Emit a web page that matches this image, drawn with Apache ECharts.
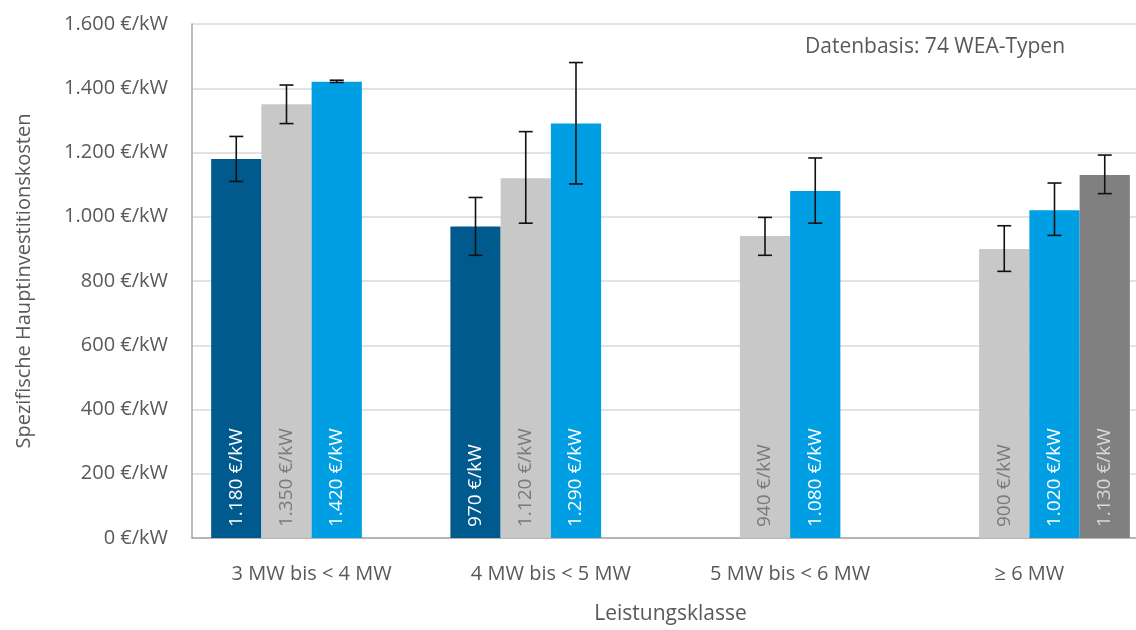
<!DOCTYPE html>
<html>
<head>
<meta charset="utf-8">
<script src="https://cdn.jsdelivr.net/npm/echarts@6/dist/echarts.min.js"></script>
<style>html,body{margin:0;padding:0;background:#fff;overflow:hidden;}#c{width:1149px;height:630px;}</style>
</head>
<body>
<div id="c"></div>
<script>
const categories = ['3 MW bis < 4 MW', '4 MW bis < 5 MW', '5 MW bis < 6 MW', '≥ 6 MW'];
const seriesNames = ['S1', 'S2', 'S3', 'S4'];
const valuesDarkBlue = [1180, 970, null, null];
const valuesLightGray = [1350, 1120, 940, 900];
const valuesBlue = [1420, 1290, 1080, 1020];
const valuesDarkGray = [null, null, null, 1130];
const lowDarkBlue = [1110, 880, null, null];
const highDarkBlue = [1250, 1060, null, null];
const lowLightGray = [1290, 980, 880, 830];
const highLightGray = [1410, 1265, 998, 972];
const lowBlue = [1418, 1102, 980, 942];
const highBlue = [1425, 1480, 1183, 1105];
const lowDarkGray = [null, null, null, 1072];
const highDarkGray = [null, null, null, 1192];
const yTicks = [0, 200, 400, 600, 800, 1000, 1200, 1400, 1600];

const colors = ['#005A8E', '#C8C8C8', '#009FE3', '#808080'];
const labelColors = ['#ffffff', '#7a7a7a', '#ffffff', '#d9d9d9'];
const allValues = [valuesDarkBlue, valuesLightGray, valuesBlue, valuesDarkGray];
const allLow = [lowDarkBlue, lowLightGray, lowBlue, lowDarkGray];
const allHigh = [highDarkBlue, highLightGray, highBlue, highDarkGray];

function de(n) {
  const s = String(Math.round(n));
  return s.replace(/\B(?=(\d{3})+(?!\d))/g, '.');
}
const FONT = 'Open Sans';
const GAP = 0.16;

const series = [];
allValues.forEach((vals, i) => {
  series.push({
    name: seriesNames[i],
    type: 'bar',
    data: vals.map(v => v == null ? '-' : v),
    barGap: '0%',
    barCategoryGap: (GAP * 100) + '%',
    itemStyle: { color: colors[i] },
    label: {
      show: true,
      position: 'insideBottom',
      rotate: 90,
      align: 'left',
      verticalAlign: 'middle',
      distance: 11,
      color: labelColors[i],
      fontFamily: FONT,
      fontSize: 19,
      formatter: p => de(p.value) + ' €/kW'
    },
    z: 2
  });
});
allValues.forEach((vals, i) => {
  const data = [];
  vals.forEach((v, c) => {
    if (v != null && allLow[i][c] != null) data.push([c, allLow[i][c], allHigh[i][c]]);
  });
  series.push({
    type: 'custom',
    name: 'err' + i,
    z: 5,
    data: data,
    renderItem: function (params, api) {
      const c = api.value(0);
      const lo = api.coord([c, api.value(1)]);
      const hi = api.coord([c, api.value(2)]);
      const band = api.size([1, 0])[0];
      const bw = band * (1 - GAP) / 4;
      const x = lo[0] + (i - 1.5) * bw;
      const cap = 7;
      const st = { stroke: '#111', lineWidth: 1.6 };
      return {
        type: 'group',
        children: [
          { type: 'line', shape: { x1: x, y1: lo[1], x2: x, y2: hi[1] }, style: st },
          { type: 'line', shape: { x1: x - cap, y1: lo[1], x2: x + cap, y2: lo[1] }, style: st },
          { type: 'line', shape: { x1: x - cap, y1: hi[1], x2: x + cap, y2: hi[1] }, style: st }
        ]
      };
    }
  });
});

const chart = echarts.init(document.getElementById('c'));
chart.setOption({
  animation: false,
  backgroundColor: '#ffffff',
  textStyle: { fontFamily: FONT },
  grid: { left: 192, right: 0, top: 24, bottom: 89, containLabel: false },
  graphic: [{
    type: 'text', left: 805, top: 37,
    style: { text: 'Datenbasis: 74 WEA-Typen', fontFamily: FONT, fontSize: 21, fill: '#595959' }
  }],
  xAxis: {
    type: 'category',
    data: categories,
    name: 'Leistungsklasse',
    nameLocation: 'middle',
    nameGap: 66,
    nameTextStyle: { color: '#595959', fontSize: 21, fontFamily: FONT },
    axisLine: { show: true, lineStyle: { color: '#A6A6A6', width: 1.5 } },
    axisTick: { show: false },
    axisLabel: { color: '#595959', fontSize: 20, fontFamily: FONT, margin: 26 }
  },
  yAxis: {
    type: 'value',
    min: yTicks[0],
    max: yTicks[yTicks.length - 1],
    interval: 200,
    name: 'Spezifische Hauptinvestitionskosten',
    nameLocation: 'middle',
    nameGap: 158,
    nameTextStyle: { color: '#595959', fontSize: 20, fontFamily: FONT },
    axisLine: { show: true, lineStyle: { color: '#A6A6A6', width: 1.5 } },
    axisTick: { show: false },
    splitLine: { lineStyle: { color: '#D9D9D9', width: 1.5 } },
    axisLabel: { color: '#595959', fontSize: 20, fontFamily: FONT, margin: 24, formatter: v => de(v) + ' €/kW' }
  },
  series: series
});
</script>
</body>
</html>
